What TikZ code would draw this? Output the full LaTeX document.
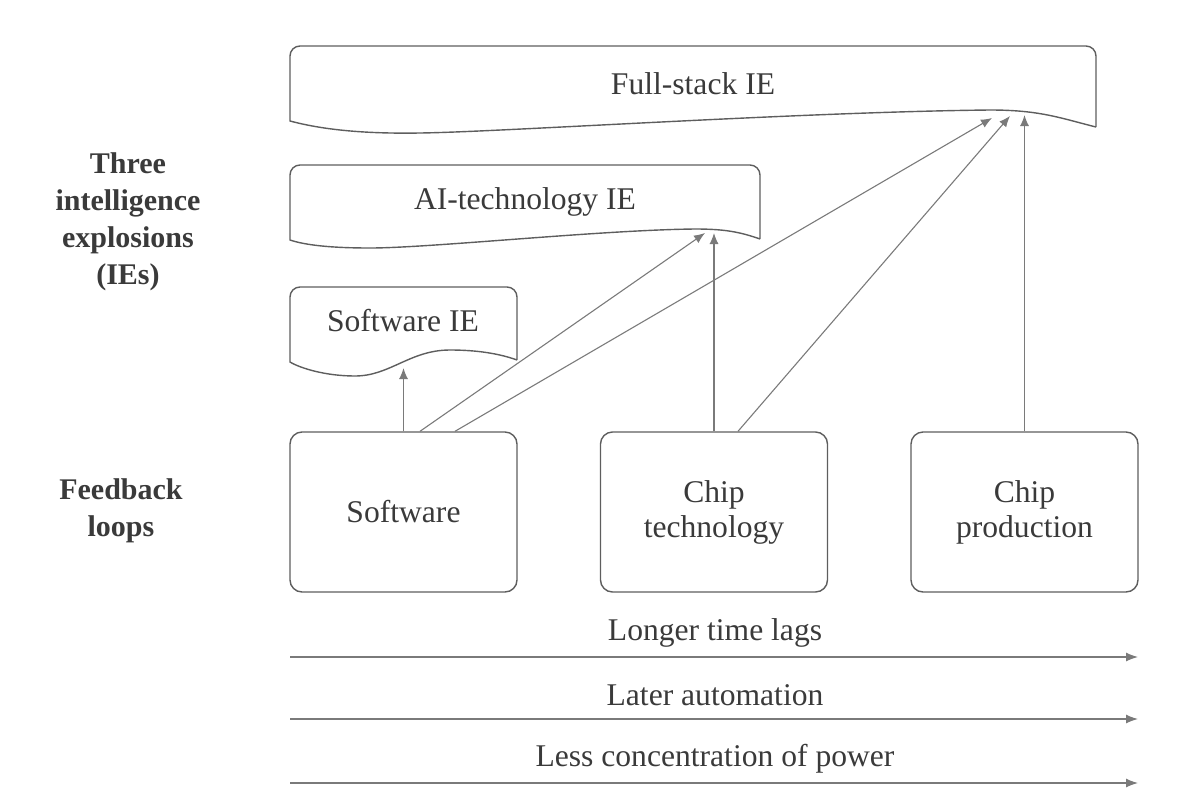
\documentclass[tikz,border=0pt]{standalone}
\usepackage{fontspec}
\setmainfont{Liberation Serif}
\usepackage{tikz}
\usetikzlibrary{calc}
\usetikzlibrary{arrows.meta}
\definecolor{inkgray}{HTML}{3A3A3A}
\definecolor{boxgray}{HTML}{5E5E5E}
\definecolor{arrowgray}{HTML}{7A7A7A}
\newcommand{\lblfont}{\fontsize{15.8}{17.5}\selectfont}
\newcommand{\sidefont}{\fontsize{15}{18.5}\selectfont\bfseries}
\tikzset{
	loopbox/.style={draw=boxgray, line width=0.7pt, rounded corners=6pt, minimum width=113.5pt, minimum height=80pt, align=center, text=inkgray, font=\lblfont},
	docline/.style={draw=boxgray, line width=0.7pt},
	doclabel/.style={text=inkgray, font=\lblfont},
	sidelabel/.style={text=inkgray, font=\sidefont, align=center},
	feed/.style={draw=arrowgray, line width=0.55pt, -{Latex[length=5.5pt,width=4.5pt]}},
	trend/.style={draw=arrowgray, line width=0.6pt, -{Latex[length=6pt,width=4.5pt]}},
}

\begin{document}
\begin{tikzpicture}[x=0.5pt, y=-0.5pt]
	\useasboundingbox (0,0) rectangle (1200,809);
	% intelligence explosions
	\draw[docline] (1096,127) -- (1096,56) arc[start angle=0, end angle=90, radius=5pt] -- (300,46) arc[start angle=90, end angle=180, radius=5pt] -- (290,121)
	.. controls (320,129) and (360,134) .. (420,133) .. controls (500,132) and (800,112) .. (990,110) .. controls (1040,110) and (1060,118) .. (1096,127);
	\node[doclabel] (fullie) at (693,84) {Full-stack IE};
	\draw[docline] (760,239) -- (760,175) arc[start angle=0, end angle=90, radius=5pt] -- (300,165) arc[start angle=90, end angle=180, radius=5pt] -- (290,240)
	.. controls (305,245) and (330,248) .. (370,248) .. controls (430,248) and (600,230) .. (695,229) .. controls (725,229) and (740,232) .. (760,239);
	\node[doclabel] (aiie) at (525,202) {AI-technology IE};
	\draw[docline] (517,360) -- (517,297) arc[start angle=0, end angle=90, radius=5pt] -- (300,287) arc[start angle=90, end angle=180, radius=5pt] -- (290,362)
	.. controls (300,368) and (325,376) .. (355,376) .. controls (390,376) and (410,350) .. (450,350) .. controls (470,350) and (495,352) .. (517,360);
	\node[doclabel] (swie) at (403,321) {Software IE};
	%
	\coordinate (fsA) at (992,118);
	\coordinate (fsB) at (1010,116);
	\coordinate (fsC) at (1024.5,115);
	\coordinate (aiA) at (705,233);
	\coordinate (aiB) at (714,233);
	\coordinate (swT) at (403.5,368);
	% feedback loops
	\node[loopbox] (sw) at (403.5,512) {Software};
	\node[loopbox] (ct) at (714,512) {Chip\\technology};
	\node[loopbox] (cp) at (1024.5,512) {Chip\\production};
	%
	\draw[feed] (sw.north) -- (swT);
	\draw[feed] ($(sw.north)+(16.5,0)$) -- (aiA);
	\draw[feed] ($(sw.north)+(51.5,0)$) -- (fsA);
	\draw[feed] (ct.north) -- (aiB);
	\draw[feed] ($(ct.north)+(24,0)$) -- (fsB);
	\draw[feed] (cp.north) -- (fsC);
	% side labels
	\node[sidelabel] (ies) at (128,222) {Three\\intelligence\\explosions\\(IEs)};
	\node[sidelabel] (loops) at (121,511) {Feedback\\loops};
	% trends
	\coordinate (lagL) at (290,657);
	\coordinate (lagR) at (1138,657);
	\coordinate (autoL) at (290,719);
	\coordinate (autoR) at (1138,719);
	\coordinate (powL) at (290,783);
	\coordinate (powR) at (1138,783);
	\draw[trend] (lagL) -- (lagR);
	\draw[trend] (autoL) -- (autoR);
	\draw[trend] (powL) -- (powR);
	\node[doclabel] (lag) at (715,633) {Longer time lags};
	\node[doclabel] (auto) at (715,695) {Later automation};
	\node[doclabel] (pow) at (715,759) {Less concentration of power};
\end{tikzpicture}
\end{document}
